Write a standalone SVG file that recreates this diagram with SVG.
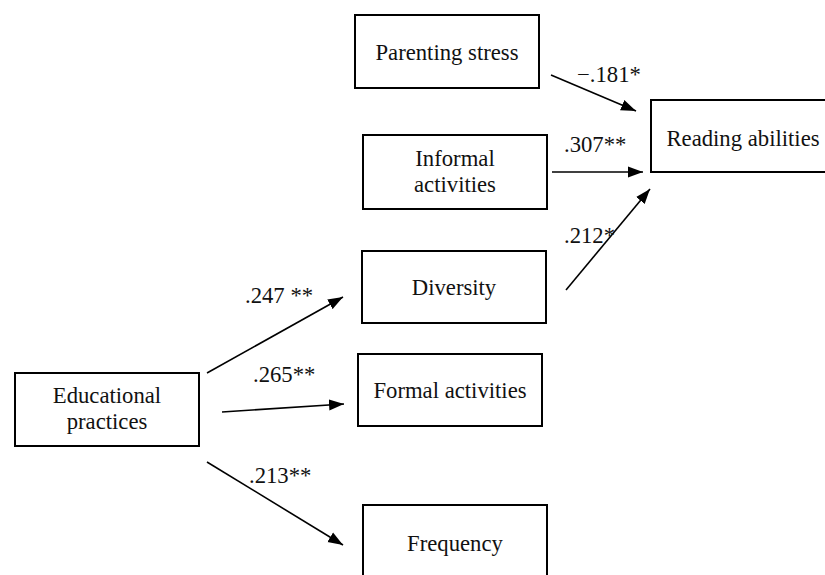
<svg xmlns="http://www.w3.org/2000/svg" width="825" height="575" viewBox="0 0 825 575">
<style>
.box{fill:#fff;stroke:#000;stroke-width:2}
.t{font-family:"Liberation Serif","Times New Roman",serif;font-size:22.7px;fill:#111}
.c{text-anchor:middle}
.a{stroke:#000;stroke-width:1.6;fill:none;marker-end:url(#ah)}
</style>
<defs>
<marker id="ah" markerUnits="userSpaceOnUse" markerWidth="16" markerHeight="12" refX="15" refY="6" orient="auto" viewBox="0 0 16 12">
<path d="M0,0.5 L15,6 L0,11.5 z" fill="#000"/>
</marker>
</defs>
<rect width="825" height="575" fill="#fff"/>
<g id="parenting-stress"><rect class="box" x="355" y="15" width="184" height="73"/><text class="t c" x="447" y="60">Parenting stress</text></g>
<g id="informal-activities"><rect class="box" x="363" y="135" width="184" height="74"/><text class="t c" x="455" y="166">Informal</text><text class="t c" x="455" y="192">activities</text></g>
<g id="reading-abilities"><rect class="box" x="651" y="100" width="182" height="72"/><text class="t c" x="743" y="146">Reading abilities</text></g>
<g id="diversity"><rect class="box" x="362" y="251" width="184" height="72"/><text class="t c" x="454" y="295">Diversity</text></g>
<g id="formal-activities"><rect class="box" x="358" y="354" width="184" height="72"/><text class="t c" x="450" y="398">Formal activities</text></g>
<g id="educational-practices"><rect class="box" x="15" y="373" width="184" height="73"/><text class="t c" x="107" y="403">Educational</text><text class="t c" x="107" y="429">practices</text></g>
<g id="frequency"><rect class="box" x="363" y="505" width="184" height="78"/><text class="t c" x="455" y="551">Frequency</text></g>
<g id="connectors">
<line class="a" x1="551" y1="75" x2="636" y2="111"/>
<line class="a" x1="552" y1="172" x2="643" y2="172"/>
<line class="a" x1="566" y1="290" x2="650" y2="189"/>
<line class="a" x1="207" y1="373" x2="343" y2="297"/>
<line class="a" x1="222" y1="412" x2="344" y2="404"/>
<line class="a" x1="207" y1="462" x2="343" y2="545"/>
<text class="t" x="577" y="82">−.181*</text>
<text class="t" x="564" y="152">.307**</text>
<text class="t" x="564" y="243">.212*</text>
<text class="t" x="245" y="303">.247 **</text>
<text class="t" x="253" y="382">.265**</text>
<text class="t" x="249" y="483">.213**</text>
</g>
</svg>
